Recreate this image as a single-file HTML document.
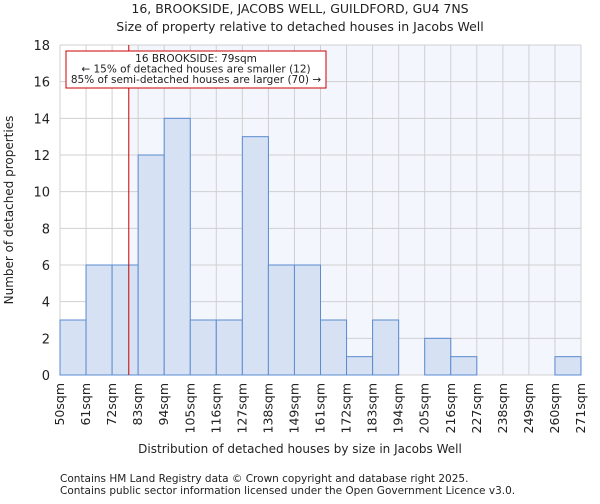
<!DOCTYPE html>
<html><head><meta charset="utf-8"><style>
body{margin:0;background:#fff;font-family:"DejaVu Sans","Liberation Sans",sans-serif;}
svg text{font-family:"DejaVu Sans","Liberation Sans",sans-serif;fill:#222;}
</style></head><body>
<svg id="c" width="600" height="500">
<text x="300" y="13" text-anchor="middle" font-size="12.5">16, BROOKSIDE, JACOBS WELL, GUILDFORD, GU4 7NS</text>
<text x="300" y="31" text-anchor="middle" font-size="12.5">Size of property relative to detached houses in Jacobs Well</text>
<g id="g"></g>
<text x="300" y="453" text-anchor="middle" font-size="12">Distribution of detached houses by size in Jacobs Well</text>
<text transform="translate(13,210) rotate(-90)" text-anchor="middle" font-size="12">Number of detached properties</text>
<text x="60" y="482" font-size="10.5" fill="#444">Contains HM Land Registry data © Crown copyright and database right 2025.</text>
<text x="60" y="494" font-size="10.5" fill="#444">Contains public sector information licensed under the Open Government Licence v3.0.</text>
</svg>
<script>
const labels=["50sqm","61sqm","72sqm","83sqm","94sqm","105sqm","116sqm","127sqm","138sqm","149sqm","161sqm","172sqm","183sqm","194sqm","205sqm","216sqm","227sqm","238sqm","249sqm","260sqm","271sqm"];
const counts=[3,6,6,12,14,3,3,13,6,6,3,1,3,0,2,1,0,0,0,1];
const yTicks=[0,2,4,6,8,10,12,14,16,18];
const propertyBin=2.64;
const NS="http://www.w3.org/2000/svg";
const L=60,R=581,T=45,B=375,yMax=18;
const n=counts.length,bw=(R-L)/n;
const xs=i=>L+i*bw, ys=v=>B-(v/yMax)*(B-T);
const g=document.getElementById('g');
function mk(t,a){const e=document.createElementNS(NS,t);for(const k in a)e.setAttribute(k,a[k]);g.appendChild(e);return e;}
const px=xs(propertyBin);
let e=mk('rect',{x:px,y:T,width:R-px,height:B-T,fill:'#f3f6fd'});


for(let i=0;i<=n;i++){e=mk('line',{x1:xs(i),x2:xs(i),y1:T,y2:B,stroke:'#d0d0d0','stroke-width':1});

}
yTicks.forEach(v=>{e=mk('line',{x1:L,x2:R,y1:ys(v),y2:ys(v),stroke:'#d0d0d0','stroke-width':1});


e=mk('text',{x:L-10,y:ys(v)+5,'text-anchor':'end','font-size':13});e.textContent=v;

});
counts.forEach((c,i)=>{if(c<=0)return;e=mk('rect',{x:xs(i),y:ys(c),width:bw,height:B-ys(c),fill:'#d6e1f3',stroke:'#5b8bd0','stroke-width':1});

});
labels.forEach((l,i)=>{const x=xs(i)+4;e=mk('text',{transform:`translate(${x},${B+8}) rotate(-90)`,'text-anchor':'end','font-size':12.5});e.textContent=l;

});
e=mk('line',{x1:px,x2:px,y1:T,y2:B,stroke:'#cc0000','stroke-width':1});


e=mk('rect',{x:66,y:51,width:260,height:37,fill:'#fff',stroke:'#cc0000','stroke-width':1});


["16 BROOKSIDE: 79sqm","← 15% of detached houses are smaller (12)","85% of semi-detached houses are larger (70) →"].forEach((t,i)=>{e=mk('text',{x:196,y:62+i*10.5,'text-anchor':'middle','font-size':10.5});e.textContent=t;

});
</script>
</body></html>
